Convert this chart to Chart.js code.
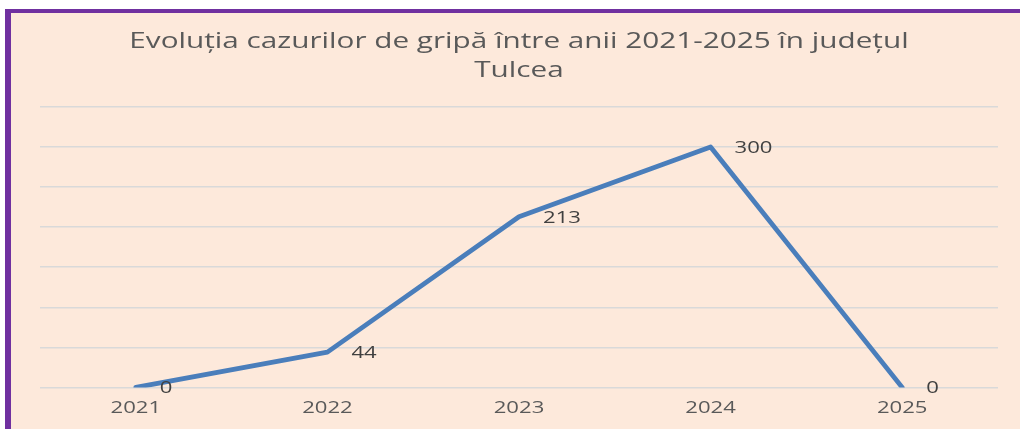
<!DOCTYPE html>
<html lang="ro">
<head>
<meta charset="utf-8">
<title>Evoluția cazurilor de gripă - Tulcea</title>
<script src="https://cdn.jsdelivr.net/npm/chart.js@4/dist/chart.umd.min.js"></script>
<style>
    body { margin: 0; background: #ffffff; }
    .panel {
        position: absolute;
        left: 5px;
        top: 9px;
        width: 1009px;
        height: 416px;
        border-left: 6px solid #7030a0;
        border-top: 4px solid #7030a0;
        background: #fde9db;
    }
    .panel canvas { display: block; }
</style>
</head>
<body>
<div class="panel">
    <canvas id="fluChart" width="1009" height="416"></canvas>
</div>
<script>
// --- Date: cazuri de gripă pe ani ---
const years = ['2021', '2022', '2023', '2024', '2025'];
const cases = [0, 44, 213, 300, 0];
const yTicks = [0, 50, 100, 150, 200, 250, 300, 350];
const titleLines = ['Evoluția cazurilor de gripă între anii 2021-2025 în județul', 'Tulcea'];

// scrie un text lățit pe orizontală (fontul original e mai lat)
function wideText(ctx, text, x, y, sx, align) {
    ctx.save();
    ctx.translate(x, y);
    ctx.scale(sx, 1);
    ctx.textAlign = align;
    ctx.fillText(text, 0, 0);
    ctx.restore();
}

const textLayer = {
    id: 'textLayer',
    afterDraw(chart) {
        const ctx = chart.ctx;
        const area = chart.chartArea;
        const xScale = chart.scales.x;
        ctx.save();
        ctx.textBaseline = 'middle';

        // titlul
        ctx.font = '22px "Open Sans"';
        ctx.fillStyle = '#595959';
        const cx = (area.left + area.right) / 2;
        titleLines.forEach((line, i) => wideText(ctx, line, cx, 29 + i * 29, 1.35, 'center'));

        // anii de pe axa X, la pozițiile tick-urilor
        ctx.font = '17px "Open Sans"';
        ctx.fillStyle = '#595959';
        years.forEach((yr, i) => wideText(ctx, yr, xScale.getPixelForTick(i), area.bottom + 21, 1.3, 'center'));

        // etichete cu valoarea, la dreapta fiecărui punct
        ctx.fillStyle = '#404040';
        chart.getDatasetMeta(0).data.forEach((pt, i) => {
            wideText(ctx, String(cases[i]), pt.x + 24, pt.y + 1, 1.3, 'left');
        });

        ctx.restore();
    }
};

new Chart(document.getElementById('fluChart'), {
    type: 'line',
    data: {
        labels: years,
        datasets: [{
            data: cases,
            borderColor: '#4a7ebb',
            borderWidth: 4.8,
            pointRadius: 0,
            tension: 0,
            borderCapStyle: 'round',
            borderJoinStyle: 'round'
        }]
    },
    options: {
        responsive: false,
        animation: false,
        layout: { padding: { left: 29, right: 22, top: 94, bottom: 8 } },
        plugins: {
            legend: { display: false },
            tooltip: { enabled: false },
            title: { display: false }
        },
        scales: {
            x: {
                offset: true,
                grid: { display: false },
                border: { display: false },
                ticks: {
                    // spațiul se păstrează, textul e desenat în textLayer
                    color: 'rgba(0,0,0,0)',
                    font: { size: 18, family: '"Open Sans"' },
                    padding: 2
                }
            },
            y: {
                min: 0,
                max: 350,
                afterBuildTicks: axis => { axis.ticks = yTicks.map(v => ({ value: v })); },
                grid: { color: '#d9d9d9', lineWidth: 1.5, drawTicks: false },
                border: { display: false },
                ticks: { display: false }
            }
        }
    },
    plugins: [textLayer]
});
</script>
</body>
</html>
